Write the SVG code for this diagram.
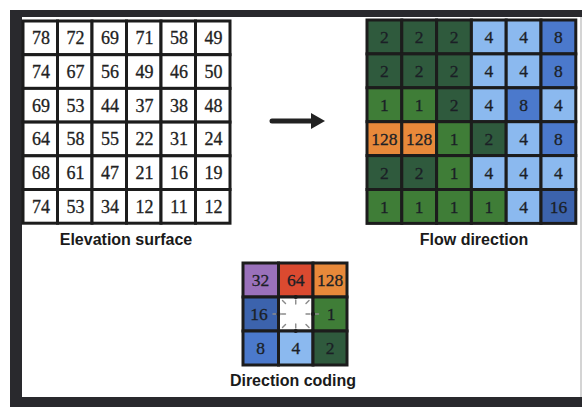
<svg xmlns="http://www.w3.org/2000/svg" width="582" height="407" viewBox="0 0 582 407">
  <style>
    .num { font-family: "Liberation Serif", "Times New Roman", serif; font-size: 18px; fill: #222; stroke: #222; stroke-width: 0.3; text-anchor: middle; }
    .cnum { font-family: "Liberation Serif", "Times New Roman", serif; font-size: 17.5px; fill: #1b1f26; stroke: #1b1f26; stroke-width: 0.3; text-anchor: middle; }
    .label { font-family: "Liberation Sans", Arial, sans-serif; font-size: 16px; font-weight: bold; fill: #1a1a1a; text-anchor: middle; }
    .cell { stroke: #1c1c1c; stroke-width: 3; }
    .w { fill: #ffffff; }
    .g1 { fill: #3f7d37; }
    .g2 { fill: #2f5a3d; }
    .b4 { fill: #8bb9ef; }
    .b8 { fill: #4b79cc; }
    .b16 { fill: #3c63ad; }
    .o128 { fill: #e8893a; }
    .p32 { fill: #9a71bb; }
    .r64 { fill: #db4a30; }
    .tick { stroke: #8a8a8a; stroke-width: 1.4; stroke-linecap: round; }
    .dot { fill: #1a1a1a; }
  </style>

  <!-- frame -->
  <rect x="10" y="10" width="572" height="397" fill="#29292d"/>
  <rect x="22" y="17" width="558" height="380" fill="#ffffff"/>
  <rect x="580" y="17" width="2" height="380" fill="#d4d4d4"/>

  <!-- elevation surface grid -->
  <g id="elevation-grid">
    <g class="cell w">
      <rect x="23" y="21" width="34.5" height="33.7"/><rect x="57.5" y="21" width="34.5" height="33.7"/><rect x="92" y="21" width="34.5" height="33.7"/><rect x="126.5" y="21" width="34.5" height="33.7"/><rect x="161" y="21" width="34.5" height="33.7"/><rect x="195.5" y="21" width="34.5" height="33.7"/>
      <rect x="23" y="54.7" width="34.5" height="33.7"/><rect x="57.5" y="54.7" width="34.5" height="33.7"/><rect x="92" y="54.7" width="34.5" height="33.7"/><rect x="126.5" y="54.7" width="34.5" height="33.7"/><rect x="161" y="54.7" width="34.5" height="33.7"/><rect x="195.5" y="54.7" width="34.5" height="33.7"/>
      <rect x="23" y="88.4" width="34.5" height="33.7"/><rect x="57.5" y="88.4" width="34.5" height="33.7"/><rect x="92" y="88.4" width="34.5" height="33.7"/><rect x="126.5" y="88.4" width="34.5" height="33.7"/><rect x="161" y="88.4" width="34.5" height="33.7"/><rect x="195.5" y="88.4" width="34.5" height="33.7"/>
      <rect x="23" y="122.1" width="34.5" height="33.7"/><rect x="57.5" y="122.1" width="34.5" height="33.7"/><rect x="92" y="122.1" width="34.5" height="33.7"/><rect x="126.5" y="122.1" width="34.5" height="33.7"/><rect x="161" y="122.1" width="34.5" height="33.7"/><rect x="195.5" y="122.1" width="34.5" height="33.7"/>
      <rect x="23" y="155.8" width="34.5" height="33.7"/><rect x="57.5" y="155.8" width="34.5" height="33.7"/><rect x="92" y="155.8" width="34.5" height="33.7"/><rect x="126.5" y="155.8" width="34.5" height="33.7"/><rect x="161" y="155.8" width="34.5" height="33.7"/><rect x="195.5" y="155.8" width="34.5" height="33.7"/>
      <rect x="23" y="189.5" width="34.5" height="33.7"/><rect x="57.5" y="189.5" width="34.5" height="33.7"/><rect x="92" y="189.5" width="34.5" height="33.7"/><rect x="126.5" y="189.5" width="34.5" height="33.7"/><rect x="161" y="189.5" width="34.5" height="33.7"/><rect x="195.5" y="189.5" width="34.5" height="33.7"/>
    </g>
    <g class="num">
      <text x="41" y="44.2">78</text><text x="75.5" y="44.2">72</text><text x="110" y="44.2">69</text><text x="144.5" y="44.2">71</text><text x="179" y="44.2">58</text><text x="213.5" y="44.2">49</text>
      <text x="41" y="77.9">74</text><text x="75.5" y="77.9">67</text><text x="110" y="77.9">56</text><text x="144.5" y="77.9">49</text><text x="179" y="77.9">46</text><text x="213.5" y="77.9">50</text>
      <text x="41" y="111.6">69</text><text x="75.5" y="111.6">53</text><text x="110" y="111.6">44</text><text x="144.5" y="111.6">37</text><text x="179" y="111.6">38</text><text x="213.5" y="111.6">48</text>
      <text x="41" y="145.3">64</text><text x="75.5" y="145.3">58</text><text x="110" y="145.3">55</text><text x="144.5" y="145.3">22</text><text x="179" y="145.3">31</text><text x="213.5" y="145.3">24</text>
      <text x="41" y="179">68</text><text x="75.5" y="179">61</text><text x="110" y="179">47</text><text x="144.5" y="179">21</text><text x="179" y="179">16</text><text x="213.5" y="179">19</text>
      <text x="41" y="212.7">74</text><text x="75.5" y="212.7">53</text><text x="110" y="212.7">34</text><text x="144.5" y="212.7">12</text><text x="179" y="212.7">11</text><text x="213.5" y="212.7">12</text>
    </g>
    <text class="label" x="126" y="245">Elevation surface</text>
  </g>

  <!-- connectors -->
  <g id="connectors">
    <line x1="272" y1="121" x2="314" y2="121" stroke="#222" stroke-width="5" stroke-linecap="round"/>
    <polygon points="311,113 325,121 311,129" fill="#222"/>
  </g>

  <!-- flow direction grid -->
  <g id="flow-grid">
    <g class="cell">
      <rect class="g2" x="367" y="20" width="34.8" height="33.9"/><rect class="g2" x="401.8" y="20" width="34.8" height="33.9"/><rect class="g2" x="436.6" y="20" width="34.8" height="33.9"/><rect class="b4" x="471.4" y="20" width="34.8" height="33.9"/><rect class="b4" x="506.2" y="20" width="34.8" height="33.9"/><rect class="b8" x="541" y="20" width="34.8" height="33.9"/>
      <rect class="g2" x="367" y="53.9" width="34.8" height="33.9"/><rect class="g2" x="401.8" y="53.9" width="34.8" height="33.9"/><rect class="g2" x="436.6" y="53.9" width="34.8" height="33.9"/><rect class="b4" x="471.4" y="53.9" width="34.8" height="33.9"/><rect class="b4" x="506.2" y="53.9" width="34.8" height="33.9"/><rect class="b8" x="541" y="53.9" width="34.8" height="33.9"/>
      <rect class="g1" x="367" y="87.8" width="34.8" height="33.9"/><rect class="g1" x="401.8" y="87.8" width="34.8" height="33.9"/><rect class="g2" x="436.6" y="87.8" width="34.8" height="33.9"/><rect class="b4" x="471.4" y="87.8" width="34.8" height="33.9"/><rect class="b8" x="506.2" y="87.8" width="34.8" height="33.9"/><rect class="b4" x="541" y="87.8" width="34.8" height="33.9"/>
      <rect class="o128" x="367" y="121.7" width="34.8" height="33.9"/><rect class="o128" x="401.8" y="121.7" width="34.8" height="33.9"/><rect class="g1" x="436.6" y="121.7" width="34.8" height="33.9"/><rect class="g2" x="471.4" y="121.7" width="34.8" height="33.9"/><rect class="b4" x="506.2" y="121.7" width="34.8" height="33.9"/><rect class="b8" x="541" y="121.7" width="34.8" height="33.9"/>
      <rect class="g2" x="367" y="155.6" width="34.8" height="33.9"/><rect class="g2" x="401.8" y="155.6" width="34.8" height="33.9"/><rect class="g1" x="436.6" y="155.6" width="34.8" height="33.9"/><rect class="b4" x="471.4" y="155.6" width="34.8" height="33.9"/><rect class="b4" x="506.2" y="155.6" width="34.8" height="33.9"/><rect class="b4" x="541" y="155.6" width="34.8" height="33.9"/>
      <rect class="g1" x="367" y="189.5" width="34.8" height="33.9"/><rect class="g1" x="401.8" y="189.5" width="34.8" height="33.9"/><rect class="g1" x="436.6" y="189.5" width="34.8" height="33.9"/><rect class="g1" x="471.4" y="189.5" width="34.8" height="33.9"/><rect class="b4" x="506.2" y="189.5" width="34.8" height="33.9"/><rect class="b16" x="541" y="189.5" width="34.8" height="33.9"/>
    </g>
    <g class="cnum">
      <text x="384.4" y="43">2</text><text x="419.2" y="43">2</text><text x="454" y="43">2</text><text x="488.8" y="43">4</text><text x="523.6" y="43">4</text><text x="558.4" y="43">8</text>
      <text x="384.4" y="76.9">2</text><text x="419.2" y="76.9">2</text><text x="454" y="76.9">2</text><text x="488.8" y="76.9">4</text><text x="523.6" y="76.9">4</text><text x="558.4" y="76.9">8</text>
      <text x="384.4" y="110.8">1</text><text x="419.2" y="110.8">1</text><text x="454" y="110.8">2</text><text x="488.8" y="110.8">4</text><text x="523.6" y="110.8">8</text><text x="558.4" y="110.8">4</text>
      <text x="384.4" y="144.7">128</text><text x="419.2" y="144.7">128</text><text x="454" y="144.7">1</text><text x="488.8" y="144.7">2</text><text x="523.6" y="144.7">4</text><text x="558.4" y="144.7">8</text>
      <text x="384.4" y="178.6">2</text><text x="419.2" y="178.6">2</text><text x="454" y="178.6">1</text><text x="488.8" y="178.6">4</text><text x="523.6" y="178.6">4</text><text x="558.4" y="178.6">4</text>
      <text x="384.4" y="212.5">1</text><text x="419.2" y="212.5">1</text><text x="454" y="212.5">1</text><text x="488.8" y="212.5">1</text><text x="523.6" y="212.5">4</text><text x="558.4" y="212.5">16</text>
    </g>
    <text class="label" x="474" y="245">Flow direction</text>
  </g>

  <!-- direction coding key -->
  <g id="direction-coding">
    <g class="cell">
      <rect class="p32" x="243" y="263" width="35.5" height="34"/><rect class="r64" x="278.5" y="263" width="34.5" height="34"/><rect class="o128" x="313" y="263" width="34" height="34"/>
      <rect class="b16" x="243" y="297" width="35.5" height="34"/><rect class="w" x="278.5" y="297" width="34.5" height="34"/><rect class="g1" x="313" y="297" width="34" height="34"/>
      <rect class="b8" x="243" y="331" width="35.5" height="34"/><rect class="b4" x="278.5" y="331" width="34.5" height="34"/><rect class="g2" x="313" y="331" width="34" height="34"/>
    </g>
    <!-- rays from the centre cell toward its eight neighbours -->
    <g class="tick">
      <line x1="295.75" y1="300" x2="295.75" y2="304"/>
      <line x1="295.75" y1="324" x2="295.75" y2="328"/>
      <line x1="281.5" y1="314" x2="285.5" y2="314"/>
      <line x1="306" y1="314" x2="310" y2="314"/>
      <line x1="282.5" y1="300.5" x2="285.5" y2="303.5"/>
      <line x1="309" y1="300.5" x2="306" y2="303.5"/>
      <line x1="282.5" y1="327.5" x2="285.5" y2="324.5"/>
      <line x1="309" y1="327.5" x2="306" y2="324.5"/>
      <line x1="273" y1="314" x2="276" y2="314"/>
      <line x1="315.5" y1="314" x2="318.5" y2="314"/>
    </g>
    <g class="dot">
      <circle cx="295.75" cy="297" r="2"/><circle cx="295.75" cy="331" r="2"/>
      <circle cx="278.5" cy="314" r="2"/><circle cx="313" cy="314" r="2"/>
      <circle cx="278.5" cy="297" r="1.8"/><circle cx="313" cy="297" r="1.8"/>
      <circle cx="278.5" cy="331" r="1.8"/><circle cx="313" cy="331" r="1.8"/>
    </g>
    <g class="cnum">
      <text x="260.5" y="286">32</text><text x="295.75" y="286">64</text><text x="330" y="286">128</text>
      <text x="259" y="320">16</text><text x="331" y="320">1</text>
      <text x="260.5" y="354">8</text><text x="295.75" y="354">4</text><text x="330" y="354">2</text>
    </g>
    <text class="label" x="293" y="386">Direction coding</text>
  </g>
</svg>
